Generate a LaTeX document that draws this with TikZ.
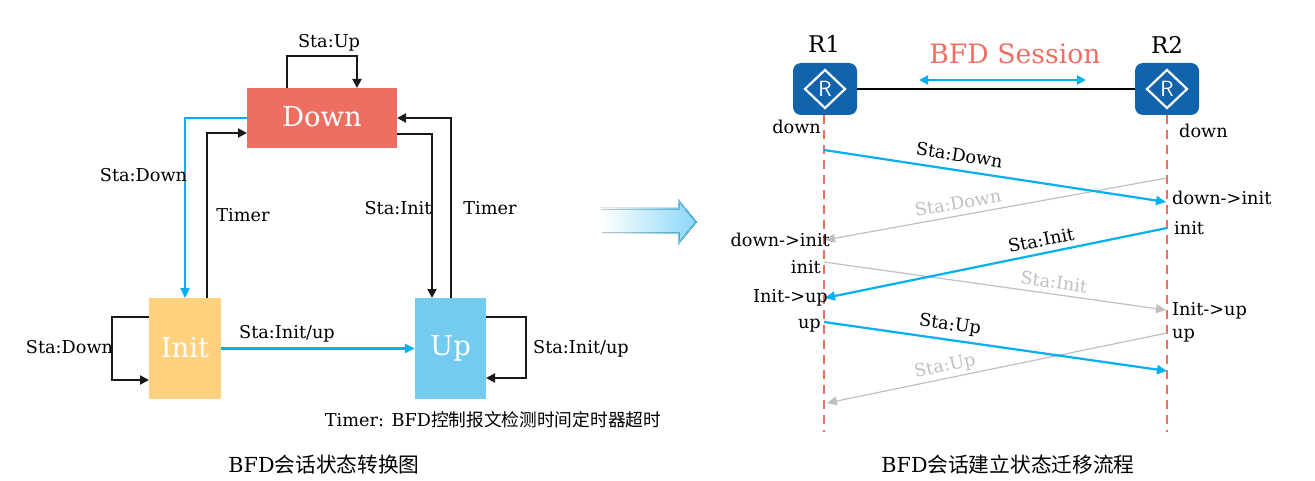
\documentclass[tikz,border=0pt]{standalone}
\usepackage{fontspec}
\setmainfont{DejaVu Serif}
\newfontfamily\cjk{Noto Sans CJK SC}
\usetikzlibrary{arrows.meta,shapes.geometric}
\definecolor{bluec}{HTML}{00B0F0}
\definecolor{redc}{HTML}{EE6F62}
\definecolor{grayc}{HTML}{BFBFBF}
\definecolor{routerc}{HTML}{1163AC}
\definecolor{initc}{HTML}{FFD07D}
\definecolor{upc}{HTML}{74CBF0}
\definecolor{arrowfill}{HTML}{8CD8F8}
\definecolor{arrowedge}{HTML}{45C4F5}
\tikzset{
 x=1pt,y=-1pt,
 statebox/.style={inner sep=0pt,text=white,font=\fontsize{27.5}{27.5}\selectfont},
 lab/.style={inner sep=0pt,font=\fontsize{17.7}{20}\selectfont,text=black},
 graylab/.style={lab,text=grayc},
 caption/.style={inner sep=0pt,font=\fontsize{20.7}{22}\selectfont,text=black},
 blk/.style={draw=black!90,line width=2pt,-{Triangle[length=9pt,width=9pt]}},
 blu/.style={draw=bluec,line width=2.2pt,-{Triangle[length=10pt,width=9pt]}},
 gry/.style={draw=grayc,line width=1.2pt,-{Triangle[length=10pt,width=9pt]}},
 life/.style={draw=redc,line width=2.4pt,dash pattern=on 9pt off 6pt},
 routerbox/.style={fill=routerc,rounded corners=8pt,minimum width=64pt,minimum height=52pt,inner sep=0pt},
 routerdia/.style={diamond,draw=white,line width=2.2pt,minimum width=41pt,minimum height=39pt,inner sep=0pt,
   text=white,font=\fontsize{22}{22}\selectfont\sffamily},
 rname/.style={inner sep=0pt,font=\fontsize{23}{23}\selectfont},
}
\begin{document}
\begin{tikzpicture}
\useasboundingbox (0,0) rectangle (1315,481);
% state boxes
\node[statebox,fill=redc,minimum width=150pt,minimum height=60pt] (down) at (322,118) {\raisebox{3.5pt}{Down}};
\node[statebox,fill=initc,minimum width=72pt,minimum height=101pt] (init) at (185,348.5) {\raisebox{2pt}{Init}};
\node[statebox,fill=upc,minimum width=71pt,minimum height=101pt] (up) at (450.5,348.5) {\raisebox{2pt}{Up}};
% connector end points on the boxes
\coordinate (dT1) at (286.5,88);
\coordinate (dT2) at (357,88);
\coordinate (dL1) at (247,118);
\coordinate (dL2) at (247,133);
\coordinate (dR1) at (397,118);
\coordinate (dR2) at (397,134);
\coordinate (iT1) at (185,298);
\coordinate (iT2) at (207,298);
\coordinate (iL1) at (149,317);
\coordinate (iL2) at (149,380);
\coordinate (uT1) at (432,298);
\coordinate (uT2) at (451,298);
\coordinate (uR1) at (486,317);
\coordinate (uR2) at (486,378);
% loops and transitions
\draw[blk] (dT1) -- (286.5,56) -- (357,56) -- (dT2);
\draw[blu] (dL1) -- (185,118) -- (iT1);
\draw[blk] (iT2) -- (207,133) -- (dL2);
\draw[blk] (dR2) -- (432,134) -- (uT1);
\draw[blk] (uT2) -- (451,118) -- (dR1);
\draw[blk] (iL1) -- (112,317) -- (112,380) -- (iL2);
\draw[blk] (uR1) -- (526,317) -- (526,378) -- (uR2);
\draw[blu] (init) -- (up);
% labels, left
\node[lab] (l1) at (329,43) {Sta:Up};
\node[lab] (l2) at (143.5,175) {Sta:Down};
\node[lab] (l3) at (243,215) {Timer};
\node[lab] (l4) at (398,208) {Sta:Init};
\node[lab] (l5) at (490,208) {Timer};
\node[lab] (l6) at (69.5,347) {Sta:Down};
\node[lab] (l7) at (287,334) {Sta:Init/up};
\node[lab] (l8) at (581,349) {Sta:Init/up};
\node[lab] (l9) at (493,420) {Timer: BFD{\cjk 控制报文检测时间定时器超时}};
\node[caption] (cap1) at (324,465) {BFD{\cjk 会话状态转换图}};
% block arrow
\fill[left color=white,right color=arrowedge] (600,208) -- (678,208) -- (678,199) -- (697,222) -- (678,245) -- (678,234) -- (600,234) -- cycle;
\fill[left color=white,right color=arrowfill] (601.5,209.5) -- (679.5,209.5) -- (679.5,203) -- (695,222) -- (679.5,241) -- (679.5,232.5) -- (601.5,232.5) -- cycle;
% routers
\node[routerbox] (r1) at (825,89) {};
\node[routerbox] (r2) at (1167,89) {};
\node[routerdia] (r1d) at (r1) {R};
\node[routerdia] (r2d) at (r2) {R};
\node[rname] (r1t) at (824,44) {R1};
\node[rname] (r2t) at (1167,45) {R2};
\node[inner sep=0pt,font=\fontsize{26.7}{27}\selectfont,text=redc] (bs) at (1015,54) {BFD Session};
\draw[black,line width=2.2pt] (r1) -- (r2);
\coordinate (sa) at (919,80);
\coordinate (sb) at (1086,80);
\draw[draw=bluec,line width=2pt,{Triangle[length=9pt,width=9pt]}-{Triangle[length=9pt,width=9pt]}] (sa) -- (sb);
% lifelines
\coordinate (t1) at (824,115);
\coordinate (t2) at (1167,115);
\coordinate (e1) at (824,432);
\coordinate (e2) at (1167,432);
\draw[life] (t1) -- (e1);
\draw[life] (t2) -- (e2);
% messages
\coordinate (a1) at (824,150); \coordinate (b1) at (1166,202);
\coordinate (a2) at (1167,178); \coordinate (b2) at (825,240);
\coordinate (a3) at (1167,228); \coordinate (b3) at (825,298);
\coordinate (a4) at (824,262); \coordinate (b4) at (1166,310);
\coordinate (a5) at (824,322); \coordinate (b5) at (1167,371);
\coordinate (a6) at (1167,333); \coordinate (b6) at (827,403);
\draw[gry] (a2) -- (b2);
\draw[gry] (a4) -- (b4);
\draw[gry] (a6) -- (b6);
\draw[blu] (a1) -- (b1);
\draw[blu] (a3) -- (b3);
\draw[blu] (a5) -- (b5);
% message labels
\node[lab,rotate=-8.5] (m1) at (959.5,155) {Sta:Down};
\node[graylab,rotate=10] (m2) at (958,203) {Sta:Down};
\node[lab,rotate=11.5] (m3) at (1041,240) {Sta:Init};
\node[graylab,rotate=-8] (m4) at (1054,282) {Sta:Init};
\node[lab,rotate=-8] (m5) at (950,325.5) {Sta:Up};
\node[graylab,rotate=11.5] (m6) at (945,367) {Sta:Up};
% state labels
\node[lab,anchor=base east] (s1) at (821,134) {down};
\node[lab,anchor=base west] (s2) at (1179,138) {down};
\node[lab,anchor=base west] (s3) at (1172,205) {down->init};
\node[lab,anchor=base west] (s4) at (1174,235) {init};
\node[lab,anchor=base east] (s5) at (830,247) {down->init};
\node[lab,anchor=base east] (s6) at (821,273) {init};
\node[lab,anchor=base east] (s7) at (828,302) {Init->up};
\node[lab,anchor=base east] (s8) at (821,328) {up};
\node[lab,anchor=base west] (s9) at (1172,315) {Init->up};
\node[lab,anchor=base west] (s10) at (1172,338) {up};
\node[caption] (cap2) at (1008,465) {BFD{\cjk 会话建立状态迁移流程}};
\end{tikzpicture}
\end{document}
